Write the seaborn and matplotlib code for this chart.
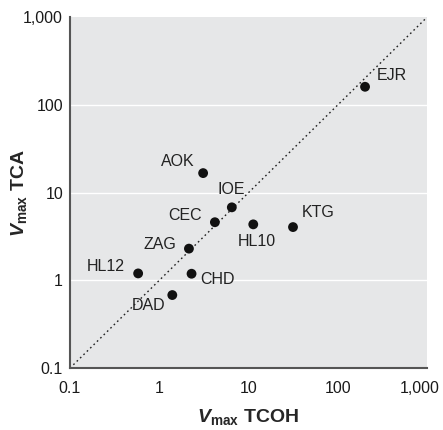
import numpy as np
import pandas as pd
import matplotlib
matplotlib.use('Agg')
import matplotlib.pyplot as plt
from matplotlib.ticker import FixedLocator, NullFormatter
from matplotlib.transforms import ScaledTranslation
import seaborn as sns

# ── データ ──────────────────────────────────────
names = ['EJR', 'AOK', 'IOE', 'CEC', 'HL10', 'KTG', 'ZAG', 'HL12', 'CHD', 'DAD']
vmax_tcoh = [202, 3.1, 6.5, 4.2, 11.3, 31.5, 2.15, 0.58, 2.3, 1.4]
vmax_tca = [161, 16.7, 6.8, 4.6, 4.35, 4.05, 2.3, 1.2, 1.19, 0.68]
tick_vals = [0.1, 1, 10, 100, 1000]
tick_labels = ['0.1', '1', '10', '100', '1,000']

# ラベル位置（点からのオフセット[px], 揃え）
label_pos = {
    'EJR': (12, 11, 'left'), 'AOK': (-9, 12, 'right'), 'IOE': (-1, 18, 'center'),
    'CEC': (-13, 7, 'right'), 'HL10': (4, -17, 'center'), 'KTG': (9, 15, 'left'),
    'ZAG': (-13, 4, 'right'), 'HL12': (-13, 7, 'right'), 'CHD': (9, -6, 'left'),
    'DAD': (-7, -10, 'right'),
}

df = pd.DataFrame({'name': names, 'x': vmax_tcoh, 'y': vmax_tca})

sns.set_style('white', {'axes.facecolor': '#e6e7e8'})
plt.rcParams['font.family'] = ['Liberation Sans', 'DejaVu Sans']
plt.rcParams['mathtext.fontset'] = 'custom'
plt.rcParams['mathtext.it'] = 'Liberation Sans:italic:bold'
plt.rcParams['mathtext.bf'] = 'Liberation Sans:bold'
plt.rcParams['mathtext.rm'] = 'Liberation Sans:bold'

fig = plt.figure(figsize=(4.43, 4.30), dpi=100)
ax = fig.add_axes([0.158, 0.144, 0.806, 0.816])

ax.set_xscale('log')
ax.set_yscale('log')
ax.set_xlim(0.1, 1000)
ax.set_ylim(0.1, 1000)

# 白い横グリッド
for v in tick_vals[1:-1]:
    ax.axhline(v, color='white', linewidth=1.0, zorder=1)

# 1:1 線
ax.plot([tick_vals[0], tick_vals[-1]], [tick_vals[0], tick_vals[-1]],
        color='#222222', linestyle=(0, (1.2, 2.2)), linewidth=1.0, zorder=2)

sns.scatterplot(data=df, x='x', y='y', ax=ax, color='#111111', s=50,
                edgecolor='none', zorder=3, legend=False)

for n, xv, yv in zip(names, vmax_tcoh, vmax_tca):
    dx, dy, ha = label_pos[n]
    ax.annotate(n, (xv, yv), xytext=(dx, dy), textcoords='offset pixels',
                ha=ha, va='center', fontsize=11.5, color='#222222', zorder=4)

ax.xaxis.set_major_locator(FixedLocator(tick_vals))
ax.set_xticklabels(tick_labels)
ax.yaxis.set_major_locator(FixedLocator(tick_vals))
ax.set_yticklabels(tick_labels)
minor = [m * d for d in tick_vals[:-1] for m in range(2, 10)]
ax.xaxis.set_minor_locator(FixedLocator(minor))
ax.xaxis.set_minor_formatter(NullFormatter())
ax.yaxis.set_minor_locator(FixedLocator([]))

ax.tick_params(axis='x', which='major', direction='out', length=6, width=1,
               color='#555555', labelsize=11.5, labelcolor='#1a1a1a', pad=3)
ax.tick_params(axis='x', which='minor', direction='out', length=4, width=1,
               color='#555555')
ax.tick_params(axis='y', which='both', length=0, labelsize=11.5,
               labelcolor='#1a1a1a', pad=5)

# 右端の「1,000」を少し左へ
last = ax.get_xticklabels()[-1]
last.set_transform(last.get_transform() + ScaledTranslation(-7 / 100, 0, fig.dpi_scale_trans))

for s in ['top', 'right']:
    ax.spines[s].set_visible(False)
for s in ['left', 'bottom']:
    ax.spines[s].set_color('#555555')
    ax.spines[s].set_linewidth(1.5)

ax.set_xlabel(r'$\mathit{V}_{\mathbf{max}}$ TCOH', fontsize=14,
              fontweight='bold', labelpad=8)
ax.set_ylabel(r'$\mathit{V}_{\mathbf{max}}$ TCA', fontsize=14,
              fontweight='bold')
ax.yaxis.set_label_coords(-0.115, 0.5)

fig.savefig('out.png', dpi=100)
